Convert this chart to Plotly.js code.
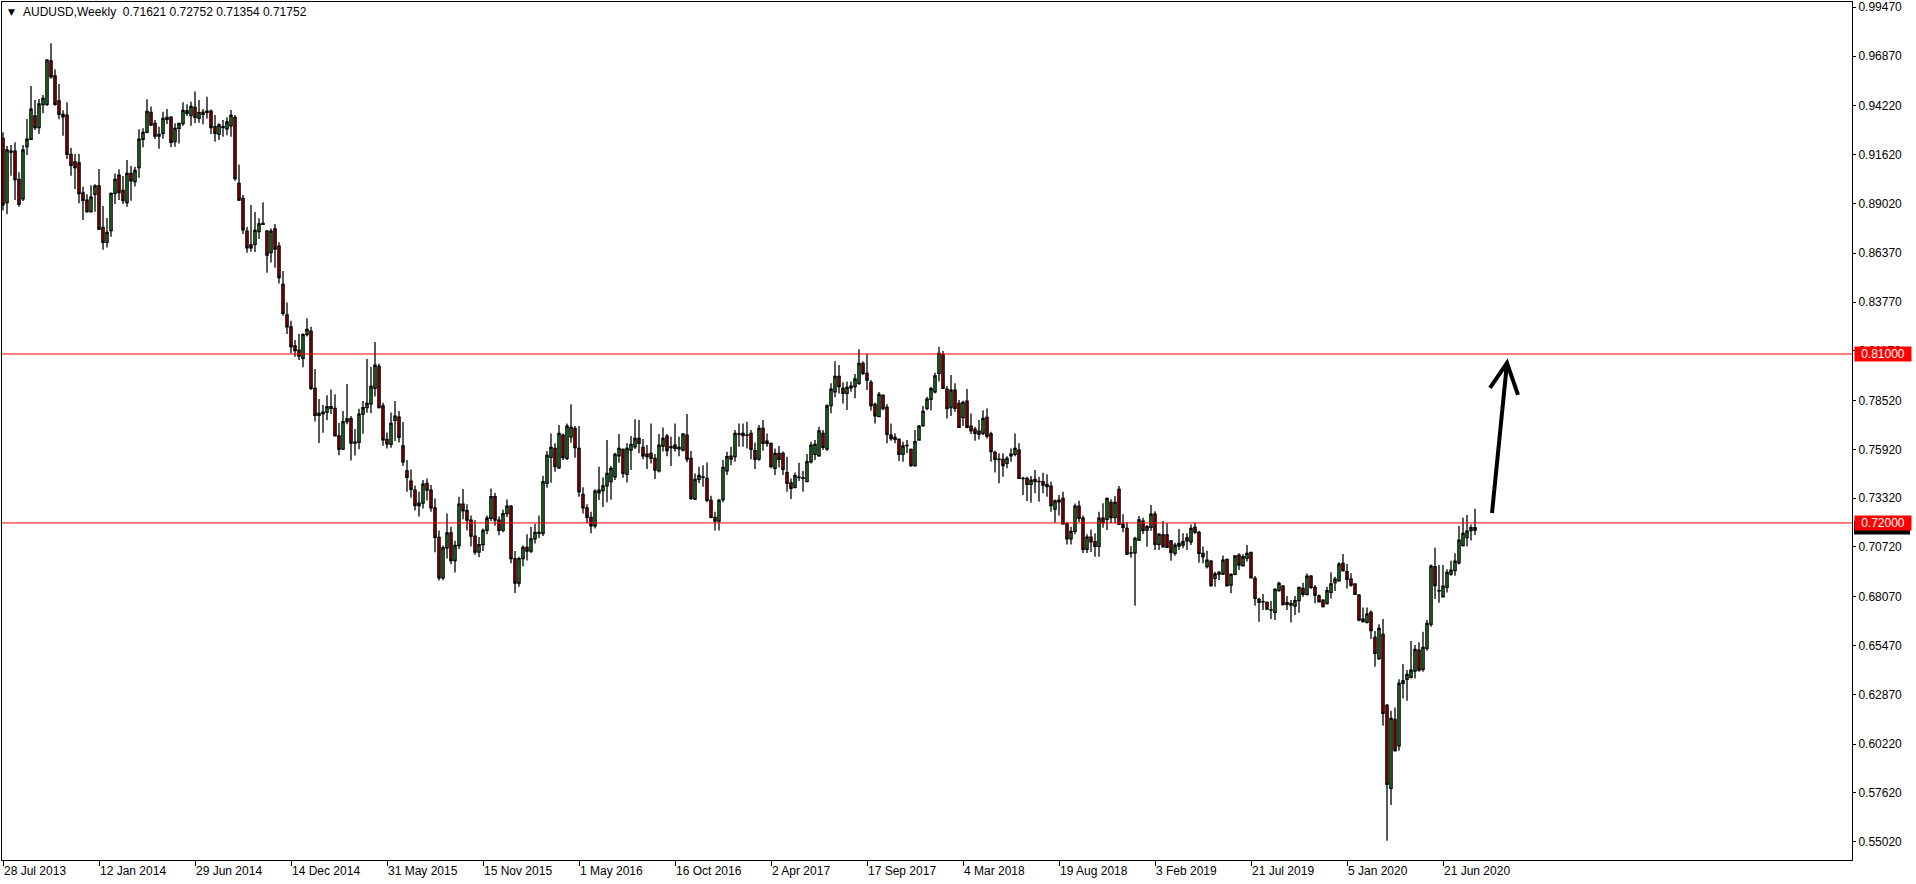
<!DOCTYPE html>
<html>
<head>
<meta charset="utf-8">
<script src="https://cdn.plot.ly/plotly-3.0.1.min.js"></script>
<style>html,body{margin:0;padding:0;background:#fff;}#chart{width:1916px;height:884px;}</style>
</head>
<body>
<div id="chart"></div>
<script>
const symbolTitle = 'AUDUSD,Weekly';
const lastBar = ['0.71621', '0.72752', '0.71354', '0.71752'];

const tickLabels = ['28 Jul 2013','12 Jan 2014','29 Jun 2014','14 Dec 2014','31 May 2015','15 Nov 2015','1 May 2016','16 Oct 2016','2 Apr 2017','17 Sep 2017','4 Mar 2018','19 Aug 2018','3 Feb 2019','21 Jul 2019','5 Jan 2020','21 Jun 2020'];
const tickBars = [0,24,48,72,96,120,144,168,192,216,240,264,288,312,336,360];

const priceTicks = [0.99470,0.96870,0.94220,0.91620,0.89020,0.86370,0.83770,0.81170,0.78520,0.75920,0.73320,0.70720,0.68070,0.65470,0.62870,0.60220,0.57620,0.55020];

const levels = [0.81000, 0.72000];
const currentPrice = 0.71752;

const openP = [
0.9249,0.8906,0.9175,0.9181,0.9030,0.8926,0.9205,0.9244,0.9368,0.9306,
0.9429,0.9430,0.9661,0.9581,0.9448,0.9377,0.9373,0.9164,0.9123,0.9118,
0.8958,0.8920,0.8858,0.8951,0.8995,0.8775,0.8695,0.8757,0.8956,0.9053,
0.8972,0.8906,0.9062,0.9018,0.9093,0.9244,0.9281,0.9387,0.9329,0.9270,
0.9276,0.9350,0.9361,0.9231,0.9302,0.9327,0.9395,0.9370,0.9414,0.9356,
0.9377,0.9387,0.9394,0.9311,0.9270,0.9306,0.9300,0.9316,0.9361,0.9009,
0.8929,0.8755,0.8681,0.8684,0.8752,0.8791,0.8755,0.8640,0.8766,0.8675,
0.8471,0.8308,0.8245,0.8143,0.8121,0.8077,0.8203,0.8222,0.7917,0.7773,
0.7783,0.7790,0.7820,0.7810,0.7664,0.7593,0.7740,0.7755,0.7626,0.7630,
0.7780,0.7814,0.7835,0.7917,0.8034,0.7823,0.7645,0.7619,0.7746,0.7764,
0.7610,0.7477,0.7423,0.7375,0.7293,0.7306,0.7411,0.7375,0.7280,0.7123,
0.6907,0.7068,0.7147,0.7000,0.7080,0.7300,0.7265,0.7215,0.7130,0.7045,
0.7085,0.7160,0.7225,0.7340,0.7215,0.7160,0.7250,0.7290,0.7010,0.6880,
0.7010,0.7070,0.7050,0.7115,0.7150,0.7145,0.7411,0.7549,0.7597,0.7494,
0.7668,0.7544,0.7659,0.7704,0.7597,0.7352,0.7280,0.7230,0.7185,0.7361,
0.7372,0.7397,0.7420,0.7446,0.7558,0.7592,0.7459,0.7588,0.7606,0.7650,
0.7603,0.7553,0.7571,0.7544,0.7478,0.7610,0.7663,0.7601,0.7615,0.7603,
0.7588,0.7668,0.7544,0.7327,0.7432,0.7443,0.7437,0.7320,0.7230,0.7210,
0.7325,0.7478,0.7556,0.7553,0.7672,0.7677,0.7669,0.7677,0.7585,0.7540,
0.7704,0.7636,0.7624,0.7491,0.7571,0.7571,0.7468,0.7414,0.7389,0.7441,
0.7440,0.7420,0.7526,0.7565,0.7558,0.7677,0.7594,0.7825,0.7899,0.7981,
0.7917,0.7890,0.7920,0.7926,0.7944,0.8050,0.7997,0.7949,0.7832,0.7766,
0.7880,0.7816,0.7668,0.7645,0.7645,0.7565,0.7613,0.7592,0.7505,0.7642,
0.7718,0.7810,0.7858,0.7899,0.7997,0.8098,0.7913,0.7815,0.7908,0.7837,
0.7761,0.7849,0.7716,0.7698,0.7689,0.7677,0.7762,0.7674,0.7576,0.7540,
0.7539,0.7517,0.7558,0.7565,0.7588,0.7437,0.7437,0.7405,0.7432,0.7420,
0.7420,0.7405,0.7396,0.7274,0.7322,0.7331,0.7195,0.7115,0.7155,0.7290,
0.7225,0.7060,0.7125,0.7100,0.7075,0.7225,0.7219,0.7310,0.7228,0.7379,
0.7194,0.7171,0.7040,0.7041,0.7109,0.7210,0.7162,0.7176,0.7247,0.7086,
0.7136,0.7136,0.7104,0.7038,0.7077,0.7082,0.7121,0.7100,0.7176,0.7150,
0.7038,0.6967,0.6997,0.6905,0.6928,0.6928,0.7006,0.6869,0.6926,0.7029,
0.6972,0.7011,0.7043,0.6905,0.6793,0.6781,0.6777,0.6736,0.6724,0.6839,
0.6864,0.6775,0.6771,0.6757,0.6786,0.6852,0.6820,0.6917,0.6857,0.6812,
0.6789,0.6771,0.6830,0.6882,0.6892,0.6985,0.6940,0.6900,0.6875,0.6816,
0.6688,0.6670,0.6724,0.6590,0.6478,0.6606,0.6228,0.5786,0.6154,0.6013,
0.6345,0.6367,0.6378,0.6411,0.6523,0.6420,0.6532,0.6660,0.6967,0.6840,
0.6807,0.6857,0.6928,0.6946,0.6988,0.7079,0.7122,0.7159,0.71621];

const highP = [
0.9281,0.9208,0.9213,0.9228,0.9068,0.9213,0.9352,0.9528,0.9453,0.9458,
0.9480,0.9672,0.9755,0.9617,0.9538,0.9398,0.9441,0.9199,0.9165,0.9165,
0.8991,0.8951,0.8999,0.9004,0.9086,0.8888,0.8825,0.8961,0.9062,0.9084,
0.9048,0.9133,0.9102,0.9098,0.9297,0.9302,0.9457,0.9418,0.9347,0.9311,
0.9391,0.9405,0.9368,0.9329,0.9332,0.9441,0.9430,0.9444,0.9499,0.9453,
0.9405,0.9471,0.9403,0.9373,0.9329,0.9347,0.9361,0.9400,0.9373,0.9110,
0.8947,0.8778,0.8894,0.8856,0.8823,0.8908,0.8761,0.8769,0.8793,0.8695,
0.8542,0.8375,0.8277,0.8174,0.8207,0.8210,0.8290,0.8245,0.8020,0.7860,
0.7830,0.7880,0.7911,0.7885,0.7732,0.7797,0.7940,0.7770,0.7700,0.7808,
0.7850,0.8073,0.8031,0.8164,0.8050,0.7841,0.7682,0.7789,0.7850,0.7796,
0.7738,0.7535,0.7485,0.7400,0.7366,0.7429,0.7437,0.7402,0.7330,0.7160,
0.7080,0.7250,0.7180,0.7105,0.7340,0.7381,0.7300,0.7240,0.7215,0.7125,
0.7170,0.7240,0.7384,0.7360,0.7235,0.7270,0.7325,0.7295,0.7050,0.7020,
0.7080,0.7140,0.7180,0.7195,0.7240,0.7452,0.7583,0.7677,0.7624,0.7722,
0.7677,0.7730,0.7832,0.7716,0.7716,0.7390,0.7300,0.7260,0.7380,0.7499,
0.7442,0.7642,0.7503,0.7574,0.7674,0.7597,0.7624,0.7663,0.7753,0.7748,
0.7647,0.7615,0.7730,0.7567,0.7674,0.7709,0.7674,0.7659,0.7730,0.7659,
0.7677,0.7780,0.7583,0.7464,0.7499,0.7508,0.7522,0.7345,0.7260,0.7328,
0.7535,0.7579,0.7606,0.7695,0.7730,0.7730,0.7739,0.7695,0.7629,0.7722,
0.7748,0.7677,0.7629,0.7597,0.7610,0.7580,0.7553,0.7437,0.7469,0.7521,
0.7477,0.7567,0.7633,0.7642,0.7713,0.7695,0.7833,0.7944,0.8062,0.8041,
0.7949,0.7953,0.7953,0.7993,0.8126,0.8062,0.8100,0.7961,0.7842,0.7897,
0.7885,0.7832,0.7730,0.7677,0.7651,0.7633,0.7642,0.7597,0.7695,0.7722,
0.7823,0.7872,0.7926,0.8000,0.8139,0.8116,0.7929,0.7988,0.7944,0.7855,
0.7851,0.7913,0.7783,0.7713,0.7748,0.7801,0.7810,0.7686,0.7585,0.7571,
0.7571,0.7556,0.7597,0.7677,0.7624,0.7446,0.7446,0.7450,0.7482,0.7446,
0.7468,0.7459,0.7420,0.7325,0.7349,0.7366,0.7205,0.7180,0.7304,0.7318,
0.7240,0.7140,0.7165,0.7145,0.7260,0.7305,0.7336,0.7326,0.7343,0.7397,
0.7247,0.7203,0.7077,0.7127,0.7237,0.7228,0.7189,0.7296,0.7263,0.7145,
0.7210,0.7198,0.7109,0.7095,0.7168,0.7145,0.7145,0.7192,0.7203,0.7159,
0.7074,0.7052,0.7002,0.6940,0.6944,0.7026,0.7011,0.6932,0.7027,0.7038,
0.7033,0.7082,0.7047,0.6917,0.6802,0.6821,0.6781,0.6784,0.6852,0.6887,
0.6869,0.6811,0.6789,0.6811,0.6860,0.6882,0.6931,0.6923,0.6869,0.6819,
0.6793,0.6860,0.6937,0.6914,0.6990,0.7034,0.6981,0.6932,0.6878,0.6821,
0.6750,0.6750,0.6733,0.6624,0.6660,0.6688,0.6235,0.6200,0.6217,0.6368,
0.6448,0.6416,0.6571,0.6550,0.6564,0.6621,0.6683,0.6979,0.7068,0.6976,
0.6976,0.6954,0.6999,0.7038,0.7184,0.7228,0.7242,0.7192,0.72752];

const lowP = [
0.8864,0.8844,0.9050,0.8920,0.8885,0.8915,0.9160,0.9240,0.9293,0.9274,
0.9382,0.9421,0.9567,0.9423,0.9350,0.9263,0.9139,0.9050,0.8979,0.8903,
0.8814,0.8853,0.8853,0.8858,0.8761,0.8656,0.8668,0.8725,0.8899,0.8920,
0.8899,0.8885,0.8917,0.8992,0.9039,0.9201,0.9276,0.9315,0.9245,0.9194,
0.9247,0.9325,0.9201,0.9204,0.9222,0.9316,0.9368,0.9316,0.9329,0.9332,
0.9324,0.9355,0.9272,0.9231,0.9240,0.9258,0.9265,0.9258,0.9023,0.8915,
0.8739,0.8640,0.8645,0.8643,0.8713,0.8787,0.8533,0.8587,0.8560,0.8476,
0.8304,0.8206,0.8104,0.8086,0.8068,0.8029,0.8193,0.7908,0.7741,0.7626,
0.7680,0.7747,0.7780,0.7661,0.7561,0.7589,0.7726,0.7533,0.7560,0.7593,
0.7675,0.7787,0.7784,0.7873,0.7810,0.7611,0.7596,0.7601,0.7636,0.7629,
0.7503,0.7366,0.7335,0.7267,0.7234,0.7277,0.7320,0.7260,0.7044,0.6893,
0.6895,0.7010,0.6980,0.6936,0.7060,0.7220,0.7160,0.7075,0.7030,0.7017,
0.7050,0.7140,0.7210,0.7185,0.7135,0.7150,0.7230,0.6985,0.6827,0.6860,
0.6970,0.7000,0.7040,0.7090,0.7120,0.7130,0.7388,0.7414,0.7473,0.7487,
0.7535,0.7535,0.7627,0.7547,0.7340,0.7250,0.7200,0.7145,0.7170,0.7322,
0.7285,0.7310,0.7323,0.7429,0.7521,0.7441,0.7416,0.7482,0.7594,0.7571,
0.7539,0.7487,0.7517,0.7434,0.7469,0.7580,0.7556,0.7503,0.7580,0.7556,
0.7580,0.7523,0.7322,0.7322,0.7411,0.7393,0.7310,0.7225,0.7160,0.7160,
0.7310,0.7455,0.7508,0.7526,0.7606,0.7606,0.7597,0.7540,0.7487,0.7531,
0.7585,0.7606,0.7491,0.7455,0.7496,0.7455,0.7366,0.7327,0.7384,0.7423,
0.7366,0.7420,0.7517,0.7535,0.7553,0.7588,0.7585,0.7784,0.7869,0.7890,
0.7837,0.7802,0.7899,0.7864,0.7935,0.7988,0.7908,0.7798,0.7730,0.7763,
0.7801,0.7624,0.7638,0.7624,0.7530,0.7526,0.7571,0.7500,0.7500,0.7638,
0.7713,0.7801,0.7801,0.7890,0.7953,0.7915,0.7757,0.7770,0.7793,0.7707,
0.7716,0.7704,0.7674,0.7638,0.7645,0.7668,0.7650,0.7526,0.7469,0.7411,
0.7446,0.7491,0.7526,0.7556,0.7434,0.7349,0.7317,0.7308,0.7358,0.7313,
0.7358,0.7340,0.7260,0.7202,0.7240,0.7190,0.7085,0.7085,0.7140,0.7205,
0.7040,0.7040,0.7045,0.7020,0.7020,0.7175,0.7162,0.7198,0.7198,0.7189,
0.7150,0.7029,0.7015,0.6759,0.7104,0.7141,0.7073,0.7159,0.7056,0.7056,
0.7068,0.7065,0.6999,0.7025,0.7056,0.7065,0.7056,0.7082,0.7141,0.6988,
0.6985,0.6958,0.6860,0.6860,0.6896,0.6923,0.6860,0.6825,0.6922,0.6949,
0.6970,0.6994,0.6905,0.6759,0.6674,0.6736,0.6736,0.6688,0.6683,0.6834,
0.6759,0.6736,0.6670,0.6709,0.6722,0.6807,0.6813,0.6848,0.6772,0.6777,
0.6749,0.6766,0.6798,0.6837,0.6887,0.6940,0.6851,0.6860,0.6816,0.6677,
0.6670,0.6665,0.6582,0.6434,0.6470,0.6120,0.5507,0.5697,0.5981,0.5987,
0.6265,0.6253,0.6372,0.6372,0.6408,0.6408,0.6519,0.6647,0.6795,0.6775,
0.6807,0.6830,0.6919,0.6919,0.6979,0.7074,0.7074,0.7106,0.71354];

const closeP = [
0.8894,0.9187,0.9180,0.9029,0.8897,0.9187,0.9244,0.9404,0.9306,0.9432,
0.9462,0.9666,0.9577,0.9430,0.9377,0.9364,0.9164,0.9105,0.9093,0.8954,
0.8919,0.8858,0.8936,0.8995,0.8766,0.8695,0.8748,0.8956,0.9030,0.8960,
0.8917,0.9062,0.9023,0.9078,0.9244,0.9281,0.9393,0.9320,0.9261,0.9261,
0.9355,0.9361,0.9228,0.9302,0.9329,0.9398,0.9382,0.9419,0.9361,0.9386,
0.9389,0.9394,0.9306,0.9276,0.9320,0.9311,0.9336,0.9371,0.9034,0.8920,
0.8761,0.8666,0.8666,0.8759,0.8793,0.8796,0.8627,0.8755,0.8659,0.8507,
0.8317,0.8245,0.8139,0.8118,0.8089,0.8203,0.8231,0.7917,0.7773,0.7783,
0.7790,0.7820,0.7810,0.7664,0.7593,0.7740,0.7755,0.7626,0.7630,0.7780,
0.7814,0.7837,0.7928,0.8040,0.7814,0.7643,0.7622,0.7730,0.7769,0.7656,
0.7526,0.7443,0.7379,0.7293,0.7306,0.7407,0.7375,0.7280,0.7123,0.6907,
0.7068,0.7147,0.7000,0.7080,0.7300,0.7265,0.7215,0.7130,0.7045,0.7085,
0.7160,0.7225,0.7340,0.7215,0.7160,0.7250,0.7290,0.7010,0.6880,0.7010,
0.7070,0.7050,0.7115,0.7150,0.7145,0.7420,0.7560,0.7603,0.7500,0.7677,
0.7548,0.7716,0.7709,0.7601,0.7366,0.7280,0.7230,0.7185,0.7370,0.7375,
0.7397,0.7464,0.7491,0.7565,0.7597,0.7464,0.7597,0.7619,0.7650,0.7624,
0.7558,0.7567,0.7544,0.7482,0.7615,0.7650,0.7585,0.7606,0.7597,0.7595,
0.7674,0.7540,0.7331,0.7432,0.7453,0.7445,0.7320,0.7230,0.7210,0.7320,
0.7496,0.7553,0.7540,0.7677,0.7674,0.7665,0.7668,0.7592,0.7539,0.7704,
0.7624,0.7624,0.7500,0.7571,0.7539,0.7485,0.7411,0.7384,0.7452,0.7444,
0.7438,0.7526,0.7615,0.7619,0.7690,0.7603,0.7823,0.7913,0.7981,0.7926,
0.7890,0.7922,0.7929,0.7967,0.8050,0.7997,0.7961,0.7825,0.7771,0.7885,
0.7809,0.7672,0.7650,0.7656,0.7565,0.7610,0.7612,0.7505,0.7633,0.7716,
0.7794,0.7860,0.7915,0.7983,0.8103,0.7917,0.7810,0.7908,0.7810,0.7709,
0.7842,0.7709,0.7691,0.7677,0.7672,0.7757,0.7663,0.7580,0.7539,0.7538,
0.7505,0.7544,0.7567,0.7597,0.7437,0.7436,0.7405,0.7428,0.7420,0.7421,
0.7402,0.7393,0.7292,0.7317,0.7313,0.7195,0.7115,0.7155,0.7290,0.7225,
0.7060,0.7125,0.7100,0.7075,0.7225,0.7200,0.7331,0.7228,0.7310,0.7194,
0.7176,0.7034,0.7041,0.7118,0.7216,0.7159,0.7180,0.7247,0.7086,0.7141,
0.7073,0.7070,0.7043,0.7082,0.7091,0.7100,0.7104,0.7171,0.7150,0.7038,
0.7020,0.7002,0.6866,0.6928,0.6937,0.7002,0.6866,0.6926,0.7024,0.6976,
0.7020,0.7038,0.6908,0.6798,0.6777,0.6780,0.6741,0.6737,0.6846,0.6878,
0.6766,0.6766,0.6763,0.6786,0.6857,0.6820,0.6917,0.6857,0.6816,0.6780,
0.6754,0.6839,0.6875,0.6900,0.6981,0.6946,0.6900,0.6869,0.6820,0.6683,
0.6674,0.6715,0.6626,0.6505,0.6638,0.6186,0.5807,0.6159,0.5987,0.6345,
0.6360,0.6393,0.6416,0.6527,0.6416,0.6537,0.6665,0.6970,0.6866,0.6838,
0.6864,0.6937,0.6949,0.6997,0.7109,0.7144,0.7157,0.7175,0.71752];

// Forecast arrow (drawn annotation) in bar index / price units
const arrowShaft = {x0: 372.25, y0: 0.7253, x1: 376.0, y1: 0.8052};
const arrowBarbs = {lx: 371.75, ly: 0.7919, rx: 378.75, ry: 0.7882};

const bars = openP.map((_, i) => i);

const FONT = 'Liberation Sans, Arial, sans-serif';
const W = 1916, H = 884;
const M = {l: 2, r: 64, t: 2, b: 24};
const plotW = W - M.l - M.r, plotH = H - M.t - M.b;
const px2paperX = px => (px - M.l) / plotW;
const px2paperY = py => 1 - (py - M.t) / plotH;

const trace = {
  type: 'candlestick',
  x: bars, open: openP, high: highP, low: lowP, close: closeP,
  increasing: {line: {color: '#000000', width: 1.3}, fillcolor: '#32B432'},
  decreasing: {line: {color: '#000000', width: 1.3}, fillcolor: '#E00000'},
  whiskerwidth: 0,
  hoverinfo: 'skip',
  showlegend: false
};

const shapes = [];
// current-price marker box (mostly hidden behind the 0.72 label, as in the terminal)
shapes.push({
  type: 'rect', xref: 'paper', yref: 'y',
  x0: 1 + 2 / plotW, x1: 1 + 58 / plotW,
  y0: currentPrice - 0.0037, y1: currentPrice + 0.0037,
  line: {width: 0}, fillcolor: '#000000', layer: 'above'
});
levels.forEach(v => shapes.push({
  type: 'line', xref: 'paper', yref: 'y', x0: 0, x1: 1, y0: v, y1: v,
  line: {color: '#FF0000', width: 1}
}));
shapes.push({
  type: 'path', xref: 'x', yref: 'y',
  path: `M${arrowShaft.x0},${arrowShaft.y0} L${arrowShaft.x1},${arrowShaft.y1} M${arrowBarbs.lx},${arrowBarbs.ly} L${arrowShaft.x1},${arrowShaft.y1} L${arrowBarbs.rx},${arrowBarbs.ry}`,
  line: {color: '#000000', width: 4}
});

const annotations = [
  {xref: 'paper', yref: 'paper', x: px2paperX(11), y: px2paperY(12), xanchor: 'center', yanchor: 'middle',
   text: '▼', showarrow: false, font: {family: 'DejaVu Sans', size: 9, color: '#000'}},
  {xref: 'paper', yref: 'paper', x: px2paperX(21), y: px2paperY(12.5), xanchor: 'left', yanchor: 'middle',
   text: symbolTitle + '&nbsp;&nbsp;' + lastBar.join(' '), showarrow: false, font: {family: FONT, size: 12, color: '#000'}},
];
levels.forEach(v => annotations.push({
  xref: 'paper', yref: 'y', x: 1, xshift: 2, y: v, xanchor: 'left', yanchor: 'middle',
  text: v.toFixed(5), showarrow: false, width: 56, height: 14, borderpad: 0, bgcolor: '#FF0000',
  font: {family: FONT, size: 12, color: '#ffffff'}
}));

const layout = {
  width: W, height: H,
  margin: M,
  paper_bgcolor: '#ffffff', plot_bgcolor: '#ffffff',
  showlegend: false,
  boxgap: 0.2,
  hovermode: false,
  xaxis: {
    range: [-0.25, 462.25],
    tickmode: 'array', tickvals: tickBars, ticktext: tickLabels,
    ticks: 'outside', ticklen: 5, tickcolor: '#000', tickwidth: 1,
    ticklabelposition: 'outside right',
    showline: true, linecolor: '#000', linewidth: 1, mirror: true,
    showgrid: false, zeroline: false,
    rangeslider: {visible: false},
    tickfont: {family: FONT, size: 12, color: '#000'},
    fixedrange: true
  },
  yaxis: {
    side: 'right',
    range: [0.54045, 0.99752],
    tickmode: 'array', tickvals: priceTicks, ticktext: priceTicks.map(v => v.toFixed(5)),
    ticks: 'outside', ticklen: 3, tickcolor: '#000', tickwidth: 1,
    showline: true, linecolor: '#000', linewidth: 1, mirror: true,
    showgrid: false, zeroline: false,
    tickfont: {family: FONT, size: 12, color: '#000'},
    fixedrange: true
  },
  shapes: shapes,
  annotations: annotations
};

Plotly.newPlot('chart', [trace], layout, {displayModeBar: false, staticPlot: true});
</script>
</body>
</html>
